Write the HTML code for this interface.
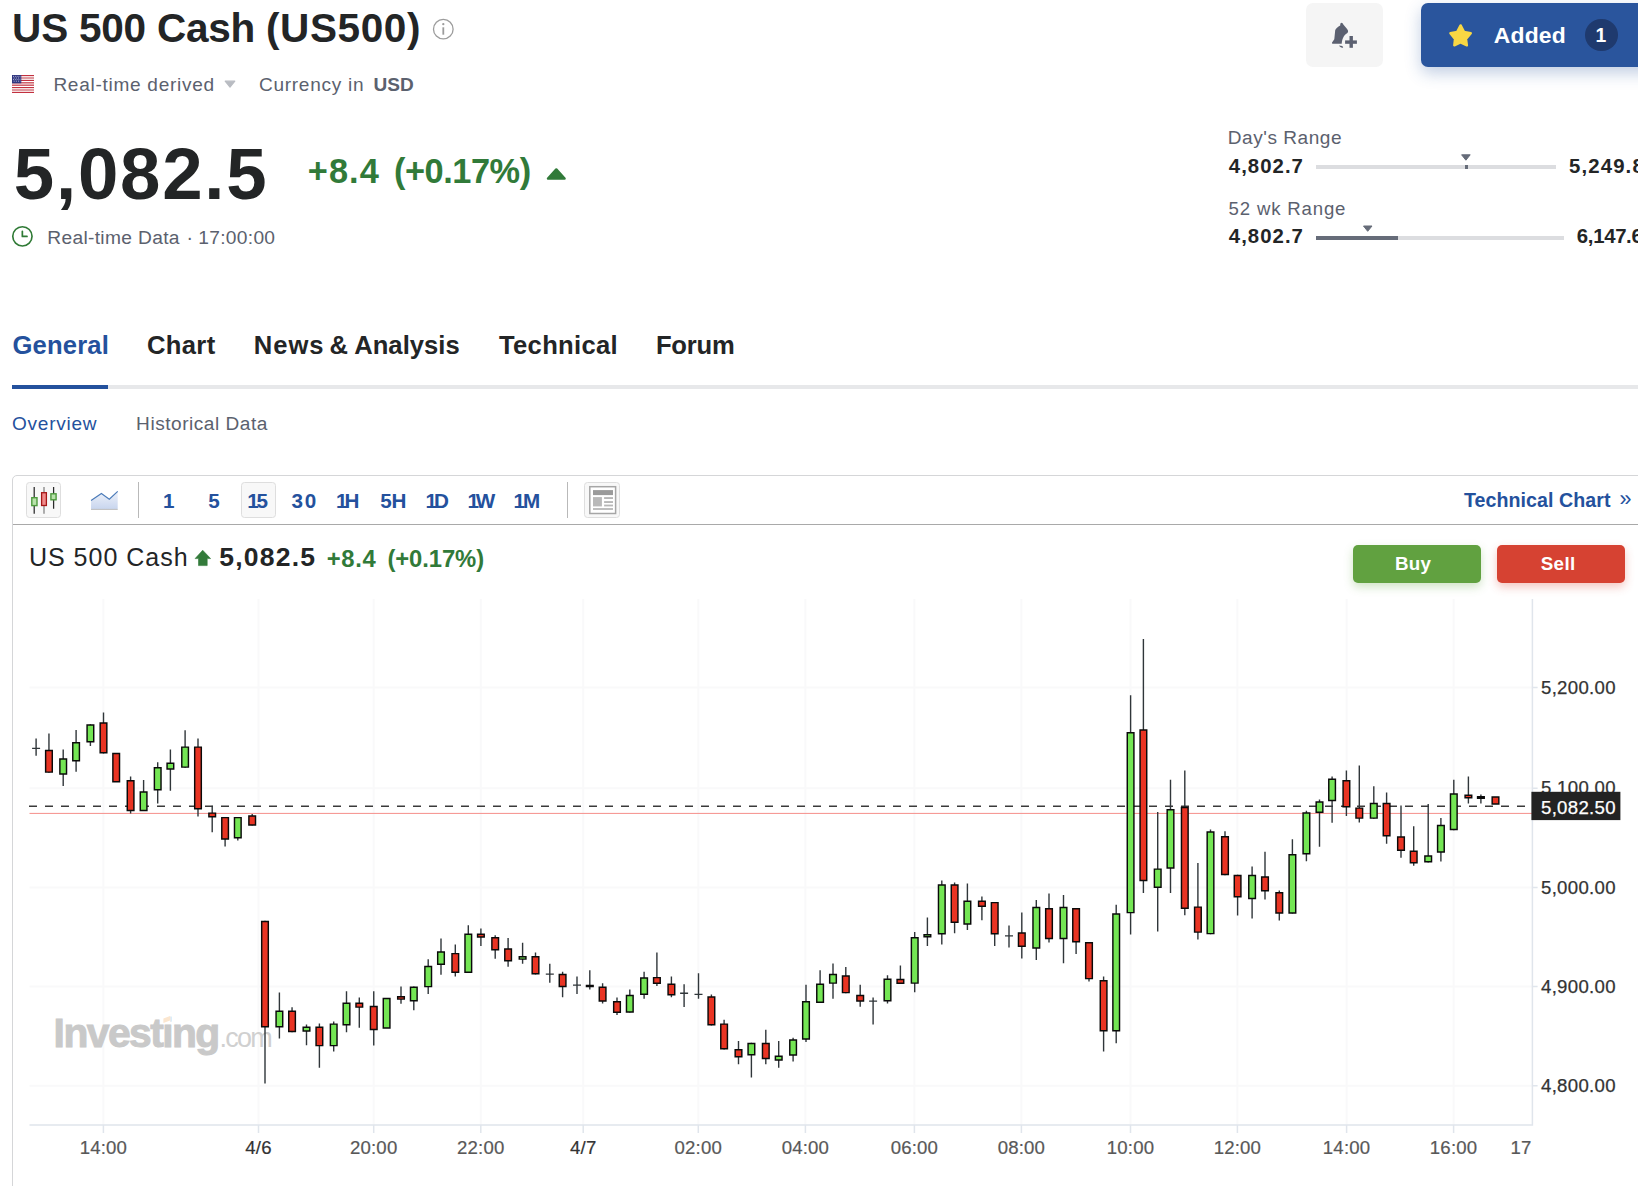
<!DOCTYPE html>
<html><head><meta charset="utf-8"><title>US 500 Cash (US500)</title>
<style>
html,body{margin:0;padding:0;background:#fff;}
body{width:1638px;height:1186px;position:relative;overflow:hidden;font-family:"Liberation Sans", sans-serif;}
.t{position:absolute;white-space:pre;}
.a{position:absolute;}
</style></head><body>
<div class="a" style="left:1306px;top:3px;width:77px;height:64px;border-radius:7px;background:#f5f5f5"></div>
<div class="a" style="left:1421px;top:3px;width:260px;height:64px;border-radius:7px;background:#2a559d;box-shadow:0 6px 16px rgba(42,85,157,.29)"></div>
<div class="a" style="left:1585px;top:18.6px;width:32.8px;height:32.8px;border-radius:50%;background:#1f3a6e"></div>
<div class="a" style="left:1316px;top:165px;width:240px;height:4px;background:#dcdde0"></div>
<div class="a" style="left:1465px;top:165px;width:3px;height:4px;background:#666c79"></div>
<div class="a" style="left:1316px;top:235.5px;width:248px;height:4px;background:#dcdde0"></div>
<div class="a" style="left:1316px;top:235.5px;width:82px;height:4px;background:#666c79"></div>
<div class="a" style="left:12px;top:385px;width:1640px;height:4px;background:#e7e8ea"></div>
<div class="a" style="left:12px;top:385px;width:96px;height:4px;background:#24519d"></div>
<div class="a" style="left:12px;top:475px;width:1700px;height:800px;border:1px solid #d5d6d8;border-radius:5px 0 0 0;box-sizing:border-box"></div>
<div class="a" style="left:13px;top:524px;width:1640px;height:1.2px;background:#a9a9a9"></div>
<div class="a" style="left:26.2px;top:482px;width:34.6px;height:35.8px;border:1px solid #dedede;border-radius:3.5px;background:#f8f8f8;box-sizing:border-box"></div>
<div class="a" style="left:241.1px;top:482px;width:34.6px;height:35.8px;border:1px solid #dedede;border-radius:3.5px;background:#f8f8f8;box-sizing:border-box"></div>
<div class="a" style="left:584.2px;top:482px;width:35.5px;height:35.8px;border:1px solid #dedede;border-radius:3.5px;background:#f8f8f8;box-sizing:border-box"></div>
<div class="a" style="left:137.9px;top:482px;width:1.1px;height:36px;background:#b9b9b9"></div>
<div class="a" style="left:567.0px;top:482px;width:1.1px;height:36px;background:#b9b9b9"></div>
<div class="a" style="left:1353px;top:544.8px;width:128px;height:38px;border-radius:5px;background:#61a140;box-shadow:0 4px 10px rgba(97,161,64,.3)"></div>
<div class="a" style="left:1497px;top:544.8px;width:127.8px;height:38px;border-radius:5px;background:#d64232;box-shadow:0 4px 10px rgba(214,66,50,.3)"></div>
<svg class="a" style="left:0;top:0" width="1638" height="600" viewBox="0 0 1638 600">
<circle cx="443.3" cy="29.15" r="9.8" fill="none" stroke="#9c9c9c" stroke-width="1.3"/><circle cx="443.3" cy="24.2" r="1.15" fill="#9c9c9c"/><path d="M443.3 27.3V34.7" stroke="#9c9c9c" stroke-width="1.8"/>
<g>
<rect x="12" y="75" width="22" height="1.00" fill="#c2303f"/>
<rect x="12" y="76" width="22" height="1.00" fill="#f5dfe0"/>
<rect x="12" y="77" width="22" height="2.00" fill="#df9aa0"/>
<rect x="12" y="79" width="22" height="1.00" fill="#f5dfe0"/>
<rect x="12" y="80" width="22" height="1.00" fill="#c2303f"/>
<rect x="12" y="81" width="22" height="1.00" fill="#ffffff"/>
<rect x="12" y="82" width="22" height="1.00" fill="#d0626d"/>
<rect x="12" y="83" width="22" height="2.00" fill="#e3a6ab"/>
<rect x="12" y="85" width="22" height="1.00" fill="#cf5f6a"/>
<rect x="12" y="86" width="22" height="1.00" fill="#ffffff"/>
<rect x="12" y="87" width="22" height="1.00" fill="#c2303f"/>
<rect x="12" y="88" width="22" height="1.00" fill="#f5dfe0"/>
<rect x="12" y="89" width="22" height="2.00" fill="#df9aa0"/>
<rect x="12" y="91" width="22" height="1.00" fill="#f5dfe0"/>
<rect x="12" y="92" width="22" height="1.00" fill="#c2303f"/>
<rect x="12" y="75" width="9.3" height="8.3" fill="#30367f"/><path d="M13 76.4h7.4M13.6 78h7M13 79.6h7.4M13.6 81.2h7" stroke="#b9bcdc" stroke-width="0.9" stroke-dasharray="1.1 1.1"/></g>
<path d="M225.2 81.2H234.8L230 87Z" fill="#b9bcc2" stroke="#b9bcc2" stroke-width="1.2" stroke-linejoin="round"/>
<path d="M548 178.6H564.6L556.3 169.4Z" fill="#317a39" stroke="#317a39" stroke-width="2.4" stroke-linejoin="round"/>
<circle cx="22.4" cy="236.35" r="9.65" fill="none" stroke="#2f7a35" stroke-width="1.65"/><path d="M22.35 231.3V236.4H27.0" fill="none" stroke="#2f7a35" stroke-width="1.7" stroke-linecap="round" stroke-linejoin="round"/>
<g fill="#5b6070"><path d="M1340.2 25.5C1340.2 23.5 1340.8 22.8 1341.5 22.8C1342.3 22.8 1342.9 23.6 1343.3 24.5L1346.9 28.8C1348.3 30.5 1348.5 32 1347.4 33C1344.5 34.5 1342.2 38 1341.7 43.7L1332.6 43.7C1331.8 43.7 1331.8 42.6 1332.4 42L1334.3 39.2L1335.2 30.2C1335.6 28.5 1338 26.8 1340.2 25.5Z"/><path d="M1339 45.6L1342.4 45.9L1343.2 47.7C1341 47.9 1339.6 47 1339 45.6Z"/><rect x="1345.1" y="40.4" width="11.8" height="3.4"/><rect x="1349.5" y="36" width="3.4" height="11.8"/></g>
<path d="M1460.6 25.4L1464 31.9L1470.8 33.2L1466 38.9L1466.9 45.3L1460.5 42.4L1454.3 45.3L1455 38.9L1450.4 33.2L1457.2 31.9Z" fill="#f8d744" stroke="#f8d744" stroke-width="2.4" stroke-linejoin="round"/>
<path d="M1461.6 154.8H1470.2L1465.9 160.2Z" fill="#666c79" stroke="#666c79" stroke-width="1" stroke-linejoin="round"/>
<path d="M1363.5 226H1372L1367.7 231.3Z" fill="#666c79" stroke="#666c79" stroke-width="1" stroke-linejoin="round"/>
<path d="M34.2 487.1V513.8M53.6 487.1V508.8" stroke="#2a2a2a" stroke-width="1.25"/><path d="M44 487.1V513.8" stroke="#808080" stroke-width="1.25"/><rect x="31.8" y="497.7" width="5.2" height="7.9" fill="#b9e2ab" stroke="#4e9a3e" stroke-width="1.4"/><rect x="41.6" y="492.7" width="4.8" height="12.8" fill="#f08b8b" stroke="#a51818" stroke-width="1.3"/><rect x="50.9" y="493.8" width="5.2" height="6" fill="#b9e2ab" stroke="#4e9a3e" stroke-width="1.4"/>
<defs><linearGradient id="ag" x1="0" y1="0" x2="0" y2="1"><stop offset="0" stop-color="#eef2fa"/><stop offset="1" stop-color="#c8d5ee"/></linearGradient></defs><path d="M91.05 500.5L101.4 493.5L109.3 499.2L117.7 491.3V509.2H91.05Z" fill="url(#ag)"/><path d="M91.05 500.5L101.4 493.5L109.3 499.2L117.7 491.3" fill="none" stroke="#4a7ab8" stroke-width="1.15"/><path d="M91.05 509.4H117.7" stroke="#bdbdbd" stroke-width="1"/>
<rect x="589.8" y="486.7" width="25.8" height="26.8" fill="#fff" stroke="#a6a6a6" stroke-width="1.5"/><rect x="593" y="490.1" width="20" height="5" fill="#9b9b9b"/><rect x="593" y="497.1" width="8.9" height="9.3" fill="#b9b9b9"/><rect x="604.1" y="497.1" width="8.9" height="1.9" fill="#b7b7b7"/><rect x="604.1" y="501.1" width="8.9" height="1.9" fill="#b7b7b7"/><rect x="604.1" y="504.6" width="8.9" height="1.8" fill="#b7b7b7"/><rect x="593" y="508.1" width="20" height="1.8" fill="#b7b7b7"/>
<path d="M202.7 550.2L210.6 558.6H207.2V565.6H198.5V558.6H195.1Z" fill="#337b3b" stroke="#337b3b" stroke-width="0.6" stroke-linejoin="round"/>
</svg>
<svg class="a" style="left:0;top:0" width="1638" height="1186" viewBox="0 0 1638 1186" font-family="'Liberation Sans', sans-serif">
<path d="M103.4 599V1124.9M258.5 599V1124.9M373.7 599V1124.9M480.8 599V1124.9M583.2 599V1124.9M698.3 599V1124.9M805.4 599V1124.9M914.4 599V1124.9M1021.4 599V1124.9M1130.5 599V1124.9M1237.4 599V1124.9M1346.6 599V1124.9M1453.6 599V1124.9M29.5 687.6H1532.4M29.5 788.3H1532.4M29.5 887.6H1532.4M29.5 986.6H1532.4M29.5 1085.8H1532.4" stroke="#f9f9fa" stroke-width="2" fill="none"/>
<path d="M29.5 1124.9H1533.15M1532.4 599V1124.9M103.4 1124.9v8.2M258.5 1124.9v8.2M373.7 1124.9v8.2M480.8 1124.9v8.2M583.2 1124.9v8.2M698.3 1124.9v8.2M805.4 1124.9v8.2M914.4 1124.9v8.2M1021.4 1124.9v8.2M1130.5 1124.9v8.2M1237.4 1124.9v8.2M1346.6 1124.9v8.2M1453.6 1124.9v8.2M1532.4 687.6h5.2M1532.4 788.3h5.2M1532.4 887.6h5.2M1532.4 986.6h5.2M1532.4 1085.8h5.2" stroke="#e0e5ec" stroke-width="1.5" fill="none"/>
<g fill="#c9c9c9"><text x="53.6" y="1046.6" font-size="40.8" font-weight="700" letter-spacing="-1.55" stroke="#c9c9c9" stroke-width="1">Investing</text><text x="219.4" y="1047" font-size="27" fill="#d0d0d0" letter-spacing="-1.7">.com</text><rect x="162.6" y="1014" width="8" height="9.6" fill="#fff"/><path d="M163.4 1018.6 L170 1016 L170 1020.4 L163.4 1023 Z" fill="#fbe6cf"/></g>
<path d="M29.5 813.4H1532.4" stroke="#f58f8a" stroke-width="1"/>
<path d="M29 806.2H1532.4" stroke="#3a3a3a" stroke-width="1.5" stroke-dasharray="8 8"/>
<path d="M36.1 738.4V755.7M32.1 748.4H40.1M48.95 733.4V772.8M63.2 749.5V786M76.1 730V771.8M90.4 724.2V745.9M103.5 712.5V753.5M130.6 776.5V813.6M143.6 779.9V811.1M157.7 762.3V803.6M170.4 749.5V790.8M185.1 730.3V767.8M198 738.4V816.5M212.2 805.8V832.3M225.1 816.9V846.5M237.8 816.9V840.4M252.2 814V825.6M265 920.8V1083.4M279.4 992.4V1038.6M292.05 1007.3V1032.2M306.5 1024.6V1045.3M319.4 1023.4V1067.7M333.7 1021.4V1051.4M346.5 991.3V1032.2M359.3 997.4V1027.7M373.75 991.3V1045.5M401 986.5V1003.7M413.8 986.5V1010.2M428.2 959.3V994M441 938.4V974.8M455.3 944.5V976.4M468.3 925.3V972.9M480.9 928.4V946M495.2 935.2V958.8M508.1 937.9V966.8M522.6 942.8V963.7M535.5 952.4V974.4M549.8 963.7V982.8M545.8 974.1H553.8M562.6 971.8V997.3M577 976.4V993.9M573 985.1H581M589.8 970.3V989.4M602.6 983.3V1003.4M617 997.5V1014.9M629.8 989.4V1012.6M644.1 971.8V998.8M656.9 952.4V985.9M671.4 976.4V997.3M684.1 984.3V1006.9M680.1 993.2H688.1M698.5 973.3V998.8M694.5 994.4H702.5M711.4 994.4V1025.5M724.1 1019.8V1049.4M738.5 1040.9V1064.2M751.4 1042.7V1077.4M765.8 1029.8V1064.2M778.7 1040.9V1067.7M793.1 1037.7V1061.4M806 984.7V1041.9M820.1 970.2V1003M833 963.6V998.7M845.8 967.1V993.3M860.2 984.7V1006.8M873.1 997.5V1024.5M869.1 1001.1H877.1M887.5 975.3V1003.4M900.4 965.5V983.9M914.7 932V992.3M927.4 917.4V945.9M941.8 880.5V944.4M954.6 882.4V933.2M967.4 883.6V930M981.9 896.4V920.3M994.7 901.9V946.1M1009 925.6V947.4M1005 935.9H1013M1021.8 912.5V958.5M1036.3 899.9V960.1M1049 893.4V942.6M1063.5 895.1V963.3M1076.1 908.1V953.9M1089 942.1V981.4M1103.6 976.6V1051.5M1116.2 904.7V1043.3M1130.6 695.2V934.6M1143.4 639.1V893.1M1157.7 811.9V931.4M1170.5 779.7V893.1M1184.8 770.4V915.2M1197.9 863.1V939.4M1210.5 829.5V934.3M1225 831.3V875.2M1237.6 874.8V915.5M1252.1 866.4V918.5M1265 851.8V899.4M1279.3 890.6V920.4M1292.4 839.3V913.6M1306.4 810.8V861.3M1319.5 799.5V846.7M1332.1 776.5V822.7M1346.4 770.4V816.1M1359.3 765.5V822.6M1373.8 786.3V818.8M1386.6 792.6V843.7M1401 805.4V857.8M1413.7 826.2V865.8M1428.2 804V862.5M1440.9 818.1V861.4M1453.8 779.8V830.2M1468.4 776.5V803.4M1480.9 794.4V803.4" stroke="#30363a" stroke-width="1.4" fill="none"/>
<path d="M45.62 750.50H52.28V772.10H45.62ZM100.17 723.00H106.83V752.80H100.17ZM112.88 753.40H119.53V781.80H112.88ZM127.27 780.80H133.92V810.40H127.27ZM194.68 747.10H201.32V808.80H194.68ZM208.88 813.10H215.52V816.80H208.88ZM221.78 817.60H228.42V838.90H221.78ZM248.88 816.00H255.52V824.90H248.88ZM261.68 921.50H268.32V1026.70H261.68ZM288.73 1011.20H295.38V1031.50H288.73ZM316.07 1027.30H322.72V1045.60H316.07ZM355.98 1003.20H362.62V1007.10H355.98ZM370.43 1006.40H377.07V1029.50H370.43ZM397.68 996.80H404.32V999.10H397.68ZM451.98 953.60H458.62V972.20H451.98ZM477.57 934.30H484.22V936.90H477.57ZM491.88 937.70H498.52V949.70H491.88ZM504.78 948.90H511.43V960.70H504.78ZM532.17 956.80H538.83V973.70H532.17ZM559.27 974.50H565.93V986.40H559.27ZM599.27 987.30H605.93V1000.90H599.27ZM613.67 1001.80H620.33V1012.30H613.67ZM653.57 977.60H660.23V983.30H653.57ZM668.07 984.30H674.73V994.80H668.07ZM708.07 996.90H714.73V1024.80H708.07ZM720.77 1024.10H727.43V1048.70H720.77ZM735.17 1049.70H741.83V1056.80H735.17ZM762.47 1043.40H769.12V1058.40H762.47ZM842.47 976.00H849.12V992.60H842.47ZM856.88 995.40H863.53V1001.00H856.88ZM897.07 979.50H903.73V983.20H897.07ZM951.27 884.90H957.93V922.20H951.27ZM978.57 901.20H985.23V906.30H978.57ZM991.38 902.60H998.03V933.80H991.38ZM1018.47 933.00H1025.12V946.30H1018.47ZM1045.67 908.80H1052.33V938.40H1045.67ZM1072.77 908.80H1079.42V941.70H1072.77ZM1085.67 942.80H1092.33V978.60H1085.67ZM1100.27 980.80H1106.92V1030.80H1100.27ZM1140.08 729.90H1146.73V880.40H1140.08ZM1181.47 807.50H1188.12V908.20H1181.47ZM1194.58 907.10H1201.23V932.10H1194.58ZM1221.67 836.80H1228.33V874.50H1221.67ZM1234.27 875.50H1240.92V896.80H1234.27ZM1261.67 877.00H1268.33V890.70H1261.67ZM1275.97 892.80H1282.62V912.90H1275.97ZM1343.08 780.80H1349.73V806.70H1343.08ZM1355.97 808.10H1362.62V818.10H1355.97ZM1383.27 803.40H1389.92V835.80H1383.27ZM1397.67 837.00H1404.33V850.30H1397.67ZM1410.38 851.30H1417.03V862.70H1410.38ZM1465.08 795.30H1471.73V797.70H1465.08ZM1492.17 796.90H1498.83V804.00H1492.17Z" fill="#e93423" stroke="#0a0a0a" stroke-width="1.45"/>
<path d="M59.88 758.90H66.53V774.00H59.88ZM72.77 742.70H79.42V760.80H72.77ZM87.08 724.90H93.73V741.80H87.08ZM140.28 792.00H146.92V810.40H140.28ZM154.38 767.80H161.02V789.70H154.38ZM167.08 763.30H173.72V768.90H167.08ZM181.78 747.10H188.42V767.10H181.78ZM234.48 817.60H241.12V837.80H234.48ZM276.07 1011.20H282.72V1026.70H276.07ZM303.18 1027.30H309.82V1031.00H303.18ZM330.38 1024.10H337.02V1045.60H330.38ZM343.18 1003.20H349.82V1024.70H343.18ZM383.28 998.40H389.93V1027.90H383.28ZM410.48 987.20H417.12V1000.70H410.48ZM424.88 966.40H431.52V986.60H424.88ZM437.68 952.00H444.32V964.20H437.68ZM464.98 934.30H471.62V972.20H464.98ZM519.27 956.80H525.93V959.10H519.27ZM626.47 995.40H633.12V1011.90H626.47ZM640.77 977.90H647.43V994.30H640.77ZM748.07 1043.40H754.73V1054.80H748.07ZM775.38 1056.20H782.03V1060.00H775.38ZM789.77 1040.00H796.43V1055.00H789.77ZM802.67 1001.80H809.33V1038.90H802.67ZM816.77 984.20H823.43V1002.30H816.77ZM829.67 974.50H836.33V983.10H829.67ZM884.17 979.20H890.83V1000.70H884.17ZM911.38 937.70H918.03V983.10H911.38ZM924.07 934.80H930.73V936.80H924.07ZM938.47 884.90H945.12V933.80H938.47ZM964.07 901.20H970.73V924.00H964.07ZM1032.97 907.40H1039.62V947.90H1032.97ZM1060.17 907.40H1066.83V938.40H1060.17ZM1112.88 913.90H1119.53V1030.80H1112.88ZM1127.27 732.80H1133.92V912.60H1127.27ZM1154.38 869.10H1161.03V887.30H1154.38ZM1167.17 809.70H1173.83V867.90H1167.17ZM1207.17 832.00H1213.83V933.60H1207.17ZM1248.77 875.50H1255.42V898.40H1248.77ZM1289.08 854.70H1295.73V912.90H1289.08ZM1303.08 812.90H1309.73V853.70H1303.08ZM1316.17 801.90H1322.83V812.30H1316.17ZM1328.77 779.30H1335.42V800.50H1328.77ZM1370.47 803.40H1377.12V818.10H1370.47ZM1424.88 856.00H1431.53V861.80H1424.88ZM1437.58 825.50H1444.23V852.00H1437.58ZM1450.47 794.00H1457.12V829.50H1450.47Z" fill="#74e654" stroke="#0a0a0a" stroke-width="1.45"/>
<path d="M586.47 985.50H593.12V986.40H586.47ZM1477.58 796.70H1484.23V798.30H1477.58Z" fill="#111" stroke="#0a0a0a" stroke-width="1.45"/>
<text x="1541" y="693.7" font-size="18.6" letter-spacing="0.3" fill="#333" stroke="#333" stroke-width="0.25">5,200.00</text>
<text x="1541" y="794.4" font-size="18.6" letter-spacing="0.3" fill="#333" stroke="#333" stroke-width="0.25">5,100.00</text>
<text x="1541" y="893.7" font-size="18.6" letter-spacing="0.3" fill="#333" stroke="#333" stroke-width="0.25">5,000.00</text>
<text x="1541" y="992.7" font-size="18.6" letter-spacing="0.3" fill="#333" stroke="#333" stroke-width="0.25">4,900.00</text>
<text x="1541" y="1091.9" font-size="18.6" letter-spacing="0.3" fill="#333" stroke="#333" stroke-width="0.25">4,800.00</text>
<rect x="1531.4" y="791.8" width="89" height="28.3" fill="#232323"/>
<text x="1541" y="813.7" font-size="18.6" letter-spacing="0.3" fill="#fff" stroke="#fff" stroke-width="0.25">5,082.50</text>
<text x="103.4" y="1153.8" font-size="18.6" letter-spacing="0.2" fill="#585858" stroke="#585858" stroke-width="0.2" text-anchor="middle">14:00</text>
<text x="258.5" y="1153.8" font-size="18.6" letter-spacing="0.2" fill="#333" stroke="#333" stroke-width="0.2" text-anchor="middle">4/6</text>
<text x="373.7" y="1153.8" font-size="18.6" letter-spacing="0.2" fill="#585858" stroke="#585858" stroke-width="0.2" text-anchor="middle">20:00</text>
<text x="480.8" y="1153.8" font-size="18.6" letter-spacing="0.2" fill="#585858" stroke="#585858" stroke-width="0.2" text-anchor="middle">22:00</text>
<text x="583.2" y="1153.8" font-size="18.6" letter-spacing="0.2" fill="#333" stroke="#333" stroke-width="0.2" text-anchor="middle">4/7</text>
<text x="698.3" y="1153.8" font-size="18.6" letter-spacing="0.2" fill="#585858" stroke="#585858" stroke-width="0.2" text-anchor="middle">02:00</text>
<text x="805.4" y="1153.8" font-size="18.6" letter-spacing="0.2" fill="#585858" stroke="#585858" stroke-width="0.2" text-anchor="middle">04:00</text>
<text x="914.4" y="1153.8" font-size="18.6" letter-spacing="0.2" fill="#585858" stroke="#585858" stroke-width="0.2" text-anchor="middle">06:00</text>
<text x="1021.4" y="1153.8" font-size="18.6" letter-spacing="0.2" fill="#585858" stroke="#585858" stroke-width="0.2" text-anchor="middle">08:00</text>
<text x="1130.5" y="1153.8" font-size="18.6" letter-spacing="0.2" fill="#585858" stroke="#585858" stroke-width="0.2" text-anchor="middle">10:00</text>
<text x="1237.4" y="1153.8" font-size="18.6" letter-spacing="0.2" fill="#585858" stroke="#585858" stroke-width="0.2" text-anchor="middle">12:00</text>
<text x="1346.6" y="1153.8" font-size="18.6" letter-spacing="0.2" fill="#585858" stroke="#585858" stroke-width="0.2" text-anchor="middle">14:00</text>
<text x="1453.6" y="1153.8" font-size="18.6" letter-spacing="0.2" fill="#585858" stroke="#585858" stroke-width="0.2" text-anchor="middle">16:00</text>
<text x="1531.5" y="1153.8" font-size="18.6" letter-spacing="0.2" fill="#585858" stroke="#585858" stroke-width="0.2" text-anchor="end">17</text>
</svg>
<span class="t" style="left:12.10px;top:1.86px;font-size:40.53px;line-height:53px;color:#232526;font-weight:700;letter-spacing:-0.222px;">US 500 Cash</span>
<span class="t" style="left:266.00px;top:1.86px;font-size:40.53px;line-height:53px;color:#232526;font-weight:700;letter-spacing:0.606px;">(US500)</span>
<span class="t" style="left:53.41px;top:71.50px;font-size:19.06px;line-height:25px;color:#5b616e;letter-spacing:0.713px;">Real-time derived</span>
<span class="t" style="left:258.91px;top:71.50px;font-size:19.06px;line-height:25px;color:#5b616e;letter-spacing:0.723px;">Currency in</span>
<span class="t" style="left:373.41px;top:71.50px;font-size:19.06px;line-height:25px;color:#5b616e;font-weight:700;letter-spacing:0.058px;">USD</span>
<span class="t" style="left:13.87px;top:126.32px;font-size:72.62px;line-height:95px;color:#232526;font-weight:700;letter-spacing:1.740px;">5,082.5</span>
<span class="t" style="left:307.83px;top:149.27px;font-size:34.37px;line-height:45px;color:#317a39;font-weight:700;letter-spacing:1.034px;">+8.4</span>
<span class="t" style="left:394.09px;top:149.27px;font-size:34.37px;line-height:45px;color:#317a39;font-weight:700;letter-spacing:-0.482px;">(+0.17%)</span>
<span class="t" style="left:47.20px;top:224.55px;font-size:19.20px;line-height:25px;color:#5b616e;letter-spacing:0.333px;">Real-time Data</span>
<span class="t" style="left:186.40px;top:223.94px;font-size:19.50px;line-height:26px;color:#5b616e;">·</span>
<span class="t" style="left:198.30px;top:224.55px;font-size:19.20px;line-height:25px;color:#5b616e;letter-spacing:0.292px;">17:00:00</span>
<span class="t" style="left:1493.64px;top:20.07px;font-size:22.90px;line-height:30px;color:#fff;font-weight:700;letter-spacing:0.248px;">Added</span>
<span class="t" style="left:1595.61px;top:22.10px;font-size:19.34px;line-height:26px;color:#fff;font-weight:700;">1</span>
<span class="t" style="left:1227.71px;top:125.40px;font-size:19.06px;line-height:25px;color:#5b616e;letter-spacing:0.545px;">Day's Range</span>
<span class="t" style="left:1228.80px;top:152.75px;font-size:20.35px;line-height:27px;color:#232526;font-weight:700;letter-spacing:1.037px;">4,802.7</span>
<span class="t" style="left:1568.98px;top:152.75px;font-size:20.35px;line-height:27px;color:#232526;font-weight:700;letter-spacing:1.147px;">5,249.8</span>
<span class="t" style="left:1228.62px;top:195.84px;font-size:18.63px;line-height:25px;color:#5b616e;letter-spacing:0.819px;">52 wk Range</span>
<span class="t" style="left:1228.80px;top:223.45px;font-size:20.35px;line-height:27px;color:#232526;font-weight:700;letter-spacing:1.037px;">4,802.7</span>
<span class="t" style="left:1576.86px;top:223.45px;font-size:20.35px;line-height:27px;color:#232526;font-weight:700;letter-spacing:-0.329px;">6,147.6</span>
<span class="t" style="left:12.40px;top:327.83px;font-size:25.60px;line-height:34px;color:#24519d;font-weight:700;letter-spacing:0.196px;">General</span>
<span class="t" style="left:146.90px;top:327.83px;font-size:25.60px;line-height:34px;color:#232526;font-weight:700;letter-spacing:0.369px;">Chart</span>
<span class="t" style="left:253.80px;top:327.83px;font-size:25.60px;line-height:34px;color:#232526;font-weight:700;letter-spacing:0.954px;">News</span>
<span class="t" style="left:329.60px;top:327.83px;font-size:25.60px;line-height:34px;color:#232526;font-weight:700;">&amp;</span>
<span class="t" style="left:354.20px;top:327.83px;font-size:25.60px;line-height:34px;color:#232526;font-weight:700;letter-spacing:0.034px;">Analysis</span>
<span class="t" style="left:499.00px;top:327.83px;font-size:25.60px;line-height:34px;color:#232526;font-weight:700;letter-spacing:0.316px;">Technical</span>
<span class="t" style="left:655.90px;top:327.83px;font-size:25.60px;line-height:34px;color:#232526;font-weight:700;letter-spacing:-0.169px;">Forum</span>
<span class="t" style="left:11.91px;top:410.70px;font-size:19.06px;line-height:25px;color:#24519d;letter-spacing:0.763px;">Overview</span>
<span class="t" style="left:136.11px;top:410.70px;font-size:19.06px;line-height:25px;color:#5b616e;letter-spacing:0.525px;">Historical Data</span>
<span class="t" style="left:162.92px;top:486.65px;font-size:20.65px;line-height:27px;color:#24519d;font-weight:700;">1</span>
<span class="t" style="left:208.25px;top:486.65px;font-size:20.65px;line-height:27px;color:#24519d;font-weight:700;">5</span>
<span class="t" style="left:247.21px;top:486.65px;font-size:20.65px;line-height:27px;color:#24519d;font-weight:700;letter-spacing:-2.068px;">15</span>
<span class="t" style="left:291.38px;top:486.65px;font-size:20.65px;line-height:27px;color:#24519d;font-weight:700;letter-spacing:1.887px;">30</span>
<span class="t" style="left:336.11px;top:486.65px;font-size:20.65px;line-height:27px;color:#24519d;font-weight:700;letter-spacing:-3.150px;">1H</span>
<span class="t" style="left:380.18px;top:486.65px;font-size:20.65px;line-height:27px;color:#24519d;font-weight:700;letter-spacing:-0.118px;">5H</span>
<span class="t" style="left:425.61px;top:486.65px;font-size:20.65px;line-height:27px;color:#24519d;font-weight:700;letter-spacing:-3.095px;">1D</span>
<span class="t" style="left:467.41px;top:486.65px;font-size:20.65px;line-height:27px;color:#24519d;font-weight:700;letter-spacing:-3.081px;">1W</span>
<span class="t" style="left:513.41px;top:486.65px;font-size:20.65px;line-height:27px;color:#24519d;font-weight:700;letter-spacing:-1.931px;">1M</span>
<span class="t" style="left:1463.90px;top:486.90px;font-size:19.63px;line-height:26px;color:#24519d;font-weight:700;letter-spacing:0.072px;">Technical Chart</span>
<span class="t" style="left:1619.52px;top:485.45px;font-size:21.50px;line-height:28px;color:#24519d;">»</span>
<span class="t" style="left:28.94px;top:541.23px;font-size:25.03px;line-height:33px;color:#232526;letter-spacing:0.989px;">US 500 Cash</span>
<span class="t" style="left:219.19px;top:540.23px;font-size:26.53px;line-height:35px;color:#232526;font-weight:700;letter-spacing:1.242px;">5,082.5</span>
<span class="t" style="left:326.66px;top:542.52px;font-size:23.82px;line-height:31px;color:#317a39;font-weight:700;letter-spacing:0.724px;">+8.4</span>
<span class="t" style="left:387.38px;top:542.52px;font-size:23.82px;line-height:31px;color:#317a39;font-weight:700;letter-spacing:-0.077px;">(+0.17%)</span>
<span class="t" style="left:1395.03px;top:550.70px;font-size:18.77px;line-height:25px;color:#fff;font-weight:700;letter-spacing:0.294px;">Buy</span>
<span class="t" style="left:1540.71px;top:550.70px;font-size:18.77px;line-height:25px;color:#fff;font-weight:700;letter-spacing:0.369px;">Sell</span>
</body></html>
